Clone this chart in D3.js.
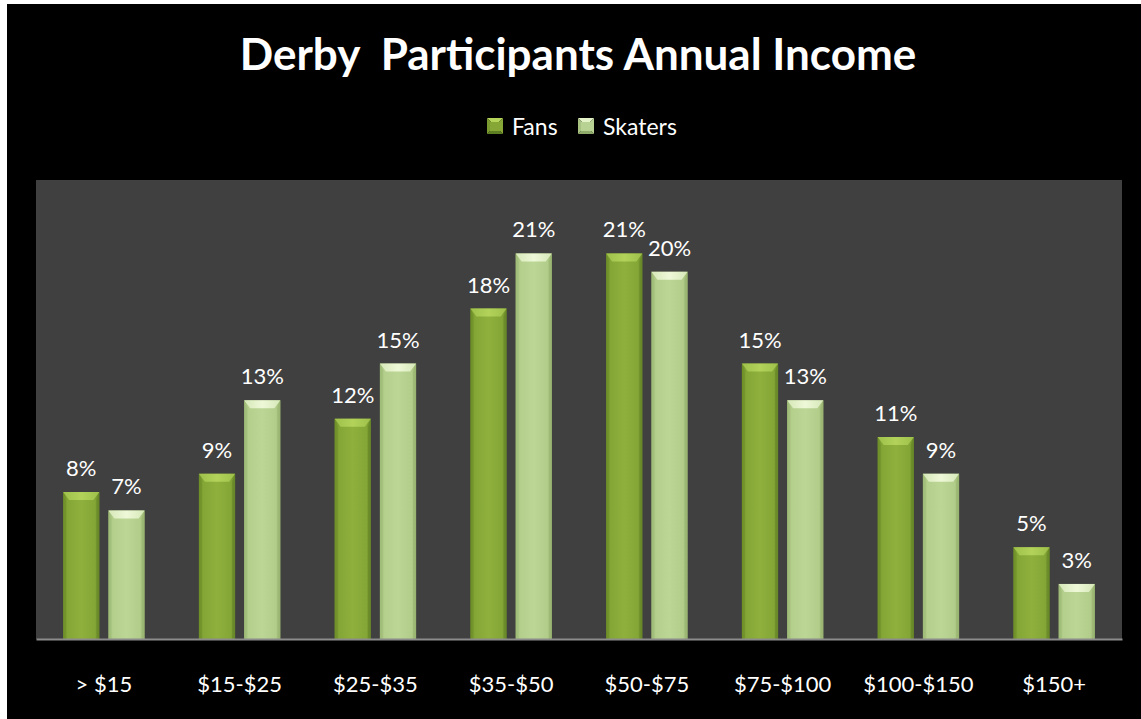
<!DOCTYPE html>
<html><head><meta charset="utf-8">
<script src="https://cdn.jsdelivr.net/npm/d3@7"></script>
<style>
html,body{margin:0;padding:0;background:#fff;}
svg{display:block;}
text{font-family:Lato,"Open Sans",sans-serif;}
</style></head>
<body>
<script>
const categories = ["> $15","$15-$25","$25-$35","$35-$50","$50-$75","$75-$100","$100-$150","$150+"];
const fans = [8,9,12,18,21,15,11,5];
const skaters = [7,13,15,21,20,13,9,3];
const seriesNames = ["Fans","Skaters"];
const title = "Derby  Participants Annual Income";

const W = 1141, H = 719;
const svg = d3.select("body").append("svg").attr("width",W).attr("height",H);
const defs = svg.append("defs");

function grad(id, stops, vertical){
  const g = defs.append("linearGradient").attr("id",id).attr("x1","0%").attr("x2",vertical?"0%":"100%").attr("y1","0%").attr("y2",vertical?"100%":"0%");
  stops.forEach(s=>g.append("stop").attr("offset",s[0]).attr("stop-color",s[1]));
}
grad("gFans",[["0%","#6c8c28"],["12%","#84a636"],["50%","#8fb03c"],["88%","#84a636"],["100%","#6a8a26"]]);
grad("gSk",[["0%","#9cb874"],["12%","#b4cf8c"],["50%","#bcd696"],["88%","#b2cc8a"],["100%","#98b470"]]);
grad("gFansTop",[["0%","#9ec04a"],["50%","#b2d25a"],["100%","#9ec04a"]]);
grad("gSkTop",[["0%","#d6e8b8"],["50%","#eef8d8"],["100%","#d6e8b8"]]);

svg.append("rect").attr("x",0).attr("y",0).attr("width",W).attr("height",H).attr("fill","#fff");
svg.append("rect").attr("x",7).attr("y",4).attr("width",W-7).attr("height",H-4).attr("fill","#000");

const plot = {x0:36, x1:1122, y0:180, y1:639};
svg.append("rect").attr("x",plot.x0).attr("y",plot.y0).attr("width",plot.x1-plot.x0).attr("height",plot.y1-plot.y0).attr("fill","#404040");

const x = d3.scaleBand().domain(categories).range([plot.x0,plot.x1]);
const xs = d3.scaleBand().domain(seriesNames).range([0,x.bandwidth()]).paddingInner(0.2).paddingOuter(0.6);
const y = d3.scaleLinear().domain([0,25]).range([plot.y1,plot.y0]);

// title
svg.append("text").attr("x",578).attr("y",70).attr("text-anchor","middle")
  .attr("fill","#fff").attr("font-size",44).attr("font-weight","bold")
  .style("white-space","pre").attr("xml:space","preserve").text(title);

// legend
const legend = svg.append("g");
const legItems = [
  {n:"Fans",c:["#b4d45a","#86a636","#5e7e22","#7a9a30"],x:487},
  {n:"Skaters",c:["#e4f2c8","#b8d294","#90ac6a","#a8c282"],x:578}];
const ls = 16, ly = 118;
legItems.forEach(it=>{
  const x0=it.x, y0=ly, m=ls/2;
  const cx=x0+m, cy=y0+m;
  const tris=[
    [[x0,y0],[x0+ls,y0],[cx,cy]],
    [[x0+ls,y0],[x0+ls,y0+ls],[cx,cy]],
    [[x0,y0+ls],[x0+ls,y0+ls],[cx,cy]],
    [[x0,y0],[x0,y0+ls],[cx,cy]]];
  tris.forEach((t,i)=>legend.append("path").attr("d","M"+t.join("L")+"Z").attr("fill",it.c[i]));
  legend.append("rect").attr("x",x0+3).attr("y",y0+4).attr("width",ls-6).attr("height",ls-7).attr("fill",it.c[1]);
  legend.append("text").attr("x",x0+ls+9).attr("y",135).attr("fill","#fff").attr("font-size",23).text(it.n);
});

// bars
const data = categories.map((c,i)=>({c, vals:[{s:"Fans",v:fans[i]},{s:"Skaters",v:skaters[i]}]}));
const groups = svg.append("g").selectAll("g").data(data).join("g").attr("transform",d=>`translate(${x(d.c)},0)`);
const bars = groups.selectAll("g").data(d=>d.vals).join("g");
const bev = 8, sb = 3;
bars.append("rect")
  .attr("x",d=>xs(d.s)).attr("y",d=>y(d.v)).attr("width",xs.bandwidth()).attr("height",d=>y(0)-y(d.v))
  .attr("fill",d=>d.s==="Fans"?"url(#gFans)":"url(#gSk)");
bars.append("path")
  .attr("d",d=>{const x0=xs(d.s),w=xs.bandwidth(),t=y(d.v);
    return `M${x0},${t} L${x0+w},${t} L${x0+w-sb*2},${t+bev} L${x0+sb*2},${t+bev} Z`;})
  .attr("fill",d=>d.s==="Fans"?"url(#gFansTop)":"url(#gSkTop)");
bars.append("path")
  .attr("d",d=>{const x0=xs(d.s),t=y(d.v),b=y(0);
    return `M${x0},${t} L${x0+sb},${t+bev} L${x0+sb},${b} L${x0},${b} Z`;})
  .attr("fill",d=>d.s==="Fans"?"#6f8f2a":"#a0bc7a").attr("opacity",0.6);
bars.append("path")
  .attr("d",d=>{const x0=xs(d.s),w=xs.bandwidth(),t=y(d.v),b=y(0);
    return `M${x0+w},${t} L${x0+w-sb},${t+bev} L${x0+w-sb},${b} L${x0+w},${b} Z`;})
  .attr("fill",d=>d.s==="Fans"?"#66862a":"#98b470").attr("opacity",0.6);
bars.append("text")
  .attr("x",d=>xs(d.s)+xs.bandwidth()/2).attr("y",d=>y(d.v)-16)
  .attr("text-anchor","middle").attr("fill","#fff").attr("font-size",22)
  .text(d=>d.v+"%");

// axis
const axis = svg.append("g").attr("transform",`translate(0,${plot.y1})`).call(d3.axisBottom(x).tickSize(0).tickPadding(37));
axis.select(".domain").attr("stroke","#8c8c8c").attr("stroke-width",2);
axis.selectAll("text").attr("fill","#fff").attr("font-size",22).style("font-family","Lato,'Open Sans',sans-serif");
</script>
</body></html>
